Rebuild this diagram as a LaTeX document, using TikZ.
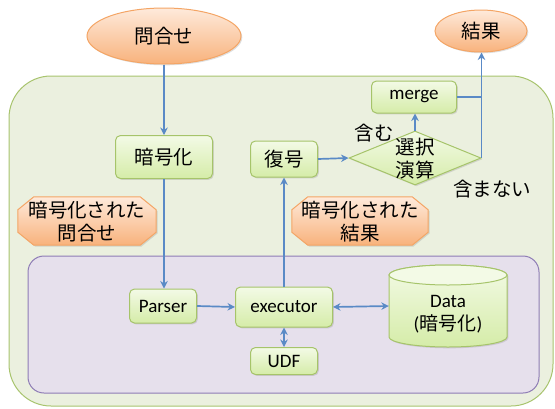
\documentclass[tikz,border=0pt]{standalone}
\usepackage{fontspec}
\setmainfont{Carlito}
\newfontfamily\jp{Noto Sans CJK JP}
\usetikzlibrary{shapes.geometric,arrows.meta,shadows,calc}
\pgfdeclarelayer{back}\pgfdeclarelayer{mid}\pgfsetlayers{back,mid,main}
\definecolor{gborder}{HTML}{A6C46A}
\definecolor{gtop}{HTML}{F3FAE6}
\definecolor{gbot}{HTML}{D5ECA8}
\definecolor{oborder}{HTML}{F4A565}
\definecolor{otop}{HTML}{FEEADB}
\definecolor{obot}{HTML}{F8B27C}
\definecolor{outerfill}{HTML}{EBF0DF}
\definecolor{outerline}{HTML}{A8C46E}
\definecolor{purfill}{HTML}{E6E0EC}
\definecolor{purline}{HTML}{8E7CB5}
\definecolor{arrowc}{HTML}{5A8AC6}
\begin{document}
\begin{tikzpicture}[x=1pt,y=-1pt,
  lat/.style={font=\fontsize{19}{23}\selectfont},
  jpt/.style={font=\jp\fontsize{19.5}{23}\selectfont},
  shad/.style={drop shadow={opacity=0.25,shadow xshift=1.3pt,shadow yshift=-1.3pt}},
  gbox/.style={draw=gborder,line width=1pt,rounded corners=5pt,top color=gtop,bottom color=gbot,shad,inner sep=0pt},
  oell/.style={ellipse,draw=oborder,line width=1pt,top color=otop,bottom color=obot,shad,inner sep=0pt},
  ofill/.style={draw=oborder,line width=1pt,top color=otop,bottom color=obot,shad},
  gfill/.style={draw=gborder,line width=1pt,top color=gtop,bottom color=gbot,shad},
  anchorbox/.style={inner sep=0pt,draw=none},
  arr/.style={draw=arrowc,line width=1.7pt,-{Stealth[length=7.5pt,width=7.5pt]}},
  darr/.style={draw=arrowc,line width=1.7pt,{Stealth[length=7.5pt,width=7.5pt]}-{Stealth[length=7.5pt,width=7.5pt]}},
  plain/.style={draw=arrowc,line width=1.7pt}]
\useasboundingbox (0,0) rectangle (555,408);

% containers
\begin{pgfonlayer}{back}
  \draw[fill=outerfill,draw=outerline,line width=1pt,rounded corners=42pt] (9,76) rectangle (553,406);
  \draw[fill=purfill,draw=purline,line width=1pt,rounded corners=16pt] (28,256) rectangle (539,393);
\end{pgfonlayer}

% ellipses
\node[oell,jpt,minimum width=154,minimum height=56] (toi) at (164,36) {問合せ};
\node[oell,jpt,minimum width=92,minimum height=42] (kekka) at (481,31) {結果};

% green boxes
\node[gbox,jpt,minimum width=97,minimum height=43] (enc) at (164,157) {暗号化};
\node[gbox,jpt,minimum width=67,minimum height=36] (dec) at (284,159) {復号};
\node[gbox,lat,minimum width=85,minimum height=32] (merge) at (414,97) {merge};
\node[gbox,lat,minimum width=67,minimum height=34] (parser) at (163,306) {Parser};
\node[gbox,lat,minimum width=97,minimum height=40] (exec) at (284,307) {executor};
\node[gbox,lat,minimum width=67,minimum height=27] (udf) at (284,361) {UDF};

% diamond
\node[diamond,gfill,inner sep=0pt,minimum width=132,minimum height=54] (sel) at (415,158) {};
\node[jpt,align=center,inner sep=0pt] (seltxt) at (415,158.5) {選択\\演算};

% octagons
\node[anchorbox,minimum width=138,minimum height=48] (q1) at (87,221) {};
\node[anchorbox,minimum width=136,minimum height=48] (q2) at (360,221) {};
\begin{pgfonlayer}{mid}
  \foreach \n in {q1,q2}{
    \path[ofill] ([xshift=16pt]\n.north west) -- ([xshift=-16pt]\n.north east) -- ([yshift=-13pt]\n.north east) -- ([yshift=13pt]\n.south east) -- ([xshift=-16pt]\n.south east) -- ([xshift=16pt]\n.south west) -- ([yshift=13pt]\n.south west) -- ([yshift=-13pt]\n.north west) -- cycle;
  }
\end{pgfonlayer}
\node[jpt,align=center,inner sep=0pt] (q1t) at (87,221.5) {暗号化された\\問合せ};
\node[jpt,align=center,inner sep=0pt] (q2t) at (360,221.5) {暗号化された\\結果};

% cylinder
\node[anchorbox,minimum width=118,minimum height=82] (data) at (448,306) {};
\begin{pgfonlayer}{mid}
  \path[gfill] (389,275) -- (389,337) arc[start angle=180,end angle=360,x radius=59pt,y radius=10pt] -- (507,275) arc[start angle=0,end angle=180,x radius=59pt,y radius=10pt] -- cycle;
  \draw[draw=gborder,line width=1pt,fill=gtop] (448,275) ellipse [x radius=59pt,y radius=10pt];
\end{pgfonlayer}
\node[lat,align=center,inner sep=0pt] (datat) at (448,314) {Data\\({\jp 暗号化})};

% labels
\node[jpt,inner sep=0pt] (fukumu) at (374,133) {含む};
\node[jpt,inner sep=0pt] (fukumanai) at (492,189) {含まない};

% connectors
\draw[arr] (toi.south) -- (enc.north);
\draw[arr] (enc.south) -- (enc.south |- parser.north);
\draw[arr] (parser.east) -- (exec.west);
\draw[arr] (exec.north) -- (dec.south);
\draw[arr] (dec.east) -- (sel.west);
\draw[arr] (sel.north) -- (sel.north |- merge.south);
\draw[arr] (sel.east) -- (sel.east |- kekka.south);
\coordinate (mj) at (merge.east -| sel.east);
\draw[plain] (merge.east) -- (mj);
\draw[darr] (exec.east) -- (data.west);
\draw[darr] (exec.south) -- (udf.north);
\end{tikzpicture}
\end{document}
